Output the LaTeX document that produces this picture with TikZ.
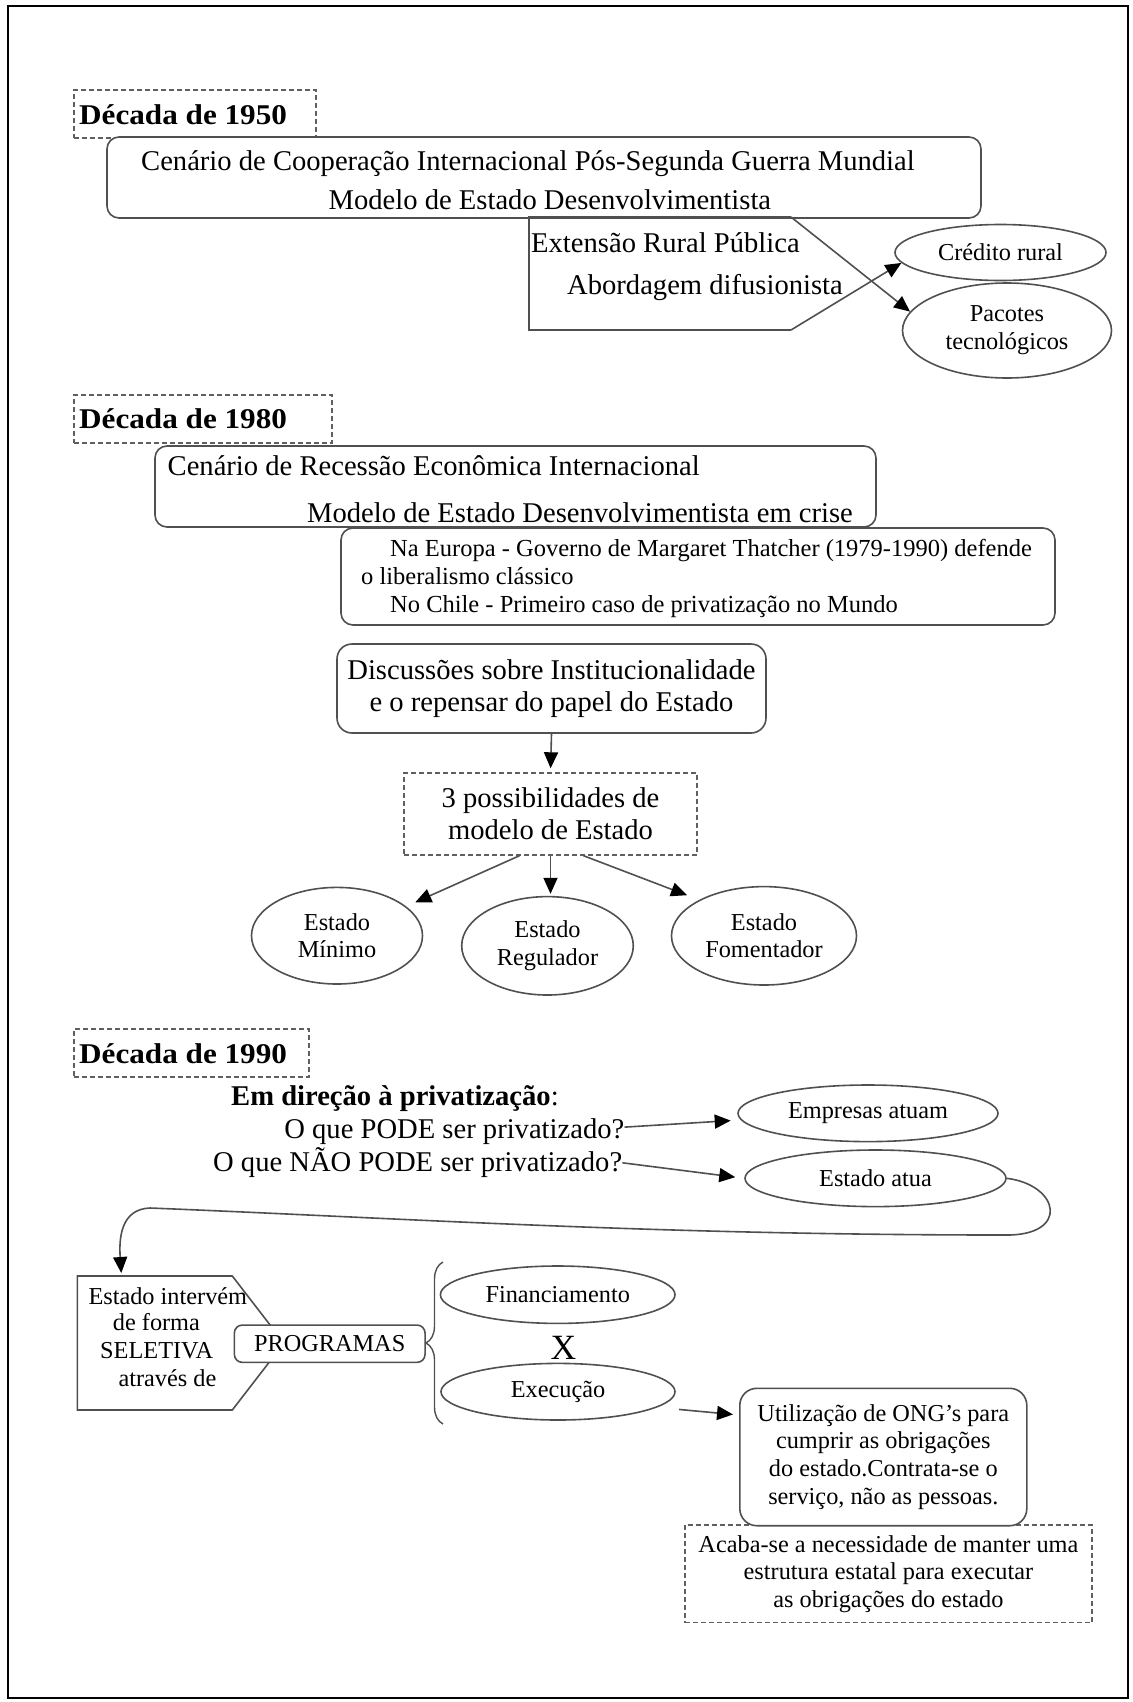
\documentclass[tikz,border=0pt]{standalone}
\usepackage{fontspec}
\usepackage{graphicx}
\setmainfont{Liberation Serif}
\usetikzlibrary{arrows.meta,shapes.geometric,decorations.pathreplacing}
\definecolor{linegray}{RGB}{80,80,80}
\definecolor{dashgray}{RGB}{95,95,95}
\begin{document}
\begin{tikzpicture}[x=1pt,y=-1pt,
  bigtxt/.style={font=\fontsize{28.6pt}{32.4pt}\selectfont},
  smtxt/.style={font=\fontsize{24.3pt}{27.7pt}\selectfont},
  headtxt/.style={font=\fontsize{28.6pt}{32pt}\selectfont\bfseries, anchor=base west, inner sep=0pt},
  txt/.style={anchor=base west, inner sep=0pt},
  rbox/.style={draw=linegray, line width=1.6pt, rounded corners=12pt, inner sep=0pt, fill=white},
  dbox/.style={draw=dashgray, line width=1.4pt, dash pattern=on 5pt off 3pt, inner sep=0pt},
  oval/.style={ellipse, draw=linegray, line width=1.6pt, inner sep=0pt, align=center, smtxt},
  arr/.style={draw=linegray, line width=1.6pt, -{Triangle[length=16pt,width=14pt,color=black]}},
]
\useasboundingbox (0,0) rectangle (1132,1702);
\draw[line width=2.7pt] (8,6) rectangle (1128,1698);

% ---------------- 1950s ----------------
\node[dbox, minimum width=242pt, minimum height=48pt] (h50box) at (195,114) {};
\node[headtxt] (h50) at (79,124) {\scalebox{1.09}[1]{Década de 1950}};

\node[rbox, minimum width=874pt, minimum height=81pt] (c50) at (544,177.5) {};
\node[txt, bigtxt] (c50a) at (141,170) {Cenário de Cooperação Internacional Pós-Segunda Guerra Mundial};
\node[txt, bigtxt] (c50b) at (328.5,209) {Modelo de Estado Desenvolvimentista};

% pointed panel whose sides run on as arrows
\coordinate (e1) at (529,217);
\coordinate (e2) at (791,217);
\coordinate (e3) at (791,330);
\coordinate (e4) at (529,330);
\draw[linegray, line width=1.6pt] (e2) -- (e1) -- (e4) -- (e3);
\node[txt, bigtxt] (ext1) at (531,252.5) {Extensão Rural Pública};
\node[txt, bigtxt] (ext2) at (567,294) {Abordagem difusionista};

\node[oval, minimum width=211pt, minimum height=56pt] (cred) at (1000.5,252.5) {Crédito rural};
\node[oval, minimum width=209pt, minimum height=95pt] (pac) at (1007,330.5) {Pacotes\\tecnológicos};
\draw[arr] (e2) -- (pac.169);
\draw[arr] (e3) -- (cred.186);

% ---------------- 1980s ----------------
\node[dbox, minimum width=258pt, minimum height=48pt] (h80box) at (203,419) {};
\node[headtxt] (h80) at (79,428) {\scalebox{1.09}[1]{Década de 1980}};

\node[rbox, minimum width=721pt, minimum height=81pt] (c80) at (515.5,486.5) {};
\node[txt, bigtxt] (c80a) at (167.5,475) {Cenário de Recessão Econômica Internacional};
\node[txt, bigtxt] (c80b) at (307,522) {Modelo de Estado Desenvolvimentista em crise};

\node[rbox, minimum width=714pt, minimum height=97pt] (thatch) at (698,576.5) {};
\node[txt, font=\fontsize{24.5pt}{28pt}\selectfont] (th1) at (390,556.7) {Na Europa - Governo de Margaret Thatcher (1979-1990) defende};
\node[txt, font=\fontsize{24.5pt}{28pt}\selectfont] (th2) at (361,584.5) {o liberalismo clássico};
\node[txt, font=\fontsize{24.5pt}{28pt}\selectfont] (th3) at (390,612) {No Chile - Primeiro caso de privatização no Mundo};

\node[rbox, rounded corners=15pt, minimum width=429pt, minimum height=89pt, align=center, bigtxt] (disc) at (551.5,688.5)
  {Discussões sobre Institucionalidade\\e o repensar do papel do Estado};
\node[dbox, minimum width=293pt, minimum height=82pt, align=center, font=\fontsize{28.6pt}{31.7pt}\selectfont] (poss) at (550.5,814)
  {3 possibilidades de\\modelo de Estado};

\node[oval, minimum width=171pt, minimum height=96.6pt] (min) at (337,935.7) {Estado\\Mínimo};
\node[oval, minimum width=171.6pt, minimum height=98.4pt] (reg) at (547.5,945.8) {Estado\\Regulador};
\node[oval, minimum width=185pt, minimum height=98.4pt] (fom) at (764,935.8) {Estado\\Fomentador};

\draw[arr, shorten >=4pt] (disc.south) -- (poss.north);
\draw[arr, shorten >=10pt] ([xshift=-31pt]poss.south) -- (min.23);
\draw[arr, shorten >=2pt] (poss.south) -- (poss.south |- reg.north);
\draw[arr, shorten >=13pt] ([xshift=33pt]poss.south) -- (fom.151);

% ---------------- 1990s ----------------
\node[dbox, minimum width=235pt, minimum height=48pt] (h90box) at (191.5,1053) {};
\node[headtxt] (h90) at (79,1063) {\scalebox{1.09}[1]{Década de 1990}};

\node[txt, bigtxt] (priv) at (231,1105) {\textbf{Em direção à privatização}:};
\node[anchor=base east, inner sep=0pt, bigtxt] (q1) at (624.5,1138) {O que PODE ser privatizado?};
\node[anchor=base east, inner sep=0pt, bigtxt] (q2) at (622.4,1171.7) {O que NÃO PODE ser privatizado?};

\node[oval, minimum width=260pt, minimum height=56.6pt] (emp) at (868,1113.3) {Empresas atuam};
\node[oval, minimum width=261pt, minimum height=56.6pt] (est) at (875.5,1178.3) {Estado atua};

\draw[arr, shorten >=10pt] ([yshift=4pt]q1.east) -- (emp.183);
\draw[arr, shorten >=9pt] (q2.east) -- (est.west);

% pointed panel: the State acts selectively
\coordinate (i1) at (77.3,1276);
\coordinate (i2) at (232.3,1276);
\coordinate (itip) at (284,1343);
\coordinate (i3) at (232.3,1410);
\coordinate (i4) at (77.3,1410);
\coordinate (intTop) at (121.5,1276);
\draw[linegray, line width=1.6pt] (i1) -- (i2) -- (itip) -- (i3) -- (i4) -- cycle;
\node[txt, smtxt] (iv1) at (88.3,1304) {Estado intervém};
\node[txt, smtxt] (iv2) at (112.7,1330) {de forma};
\node[txt, smtxt] (iv3) at (100,1358.3) {SELETIVA};
\node[txt, smtxt] (iv4) at (118.3,1386) {através de};

\draw[arr, shorten >=3pt] (est.east) .. controls (1060,1185) and (1070,1236) .. (1005,1235)
  .. controls (650,1235) and (400,1218) .. (150,1208)
  .. controls (120,1209) and (119,1240) .. (intTop);

\node[rbox, rounded corners=8pt, minimum width=190.7pt, minimum height=37.3pt, smtxt] (prog) at (329.7,1343.7) {PROGRAMAS};

\draw[linegray, line width=1.4pt, decorate, decoration={brace, amplitude=17pt}] (443,1424) -- (443,1262);

\node[oval, minimum width=234.6pt, minimum height=57.4pt] (fin) at (557.7,1294.7) {Financiamento};
\node[anchor=base, inner sep=0pt, font=\fontsize{35.5pt}{40pt}\selectfont] (vs) at (563.5,1359.3) {X};
\node[oval, minimum width=234pt, minimum height=56.6pt] (exe) at (558,1391.7) {Execução};

\node[dbox, minimum width=407pt, minimum height=97.7pt, align=center, font=\fontsize{24.3pt}{27.5pt}\selectfont] (acaba) at (888.4,1573.9)
  {Acaba-se a necessidade de manter uma\\estrutura estatal para executar\\as obrigações do estado};
\node[rbox, rounded corners=17pt, minimum width=287pt, minimum height=137.4pt, align=center, font=\fontsize{24.3pt}{27.8pt}\selectfont] (uti) at (883.3,1457)
  {Utilização de ONG’s para\\cumprir as obrigações\\do estado.Contrata-se o\\serviço, não as pessoas.};

\draw[arr, shorten <=22pt, shorten >=6pt] (exe.-9.4) -- ([yshift=42pt]uti.west);
\end{tikzpicture}
\end{document}
